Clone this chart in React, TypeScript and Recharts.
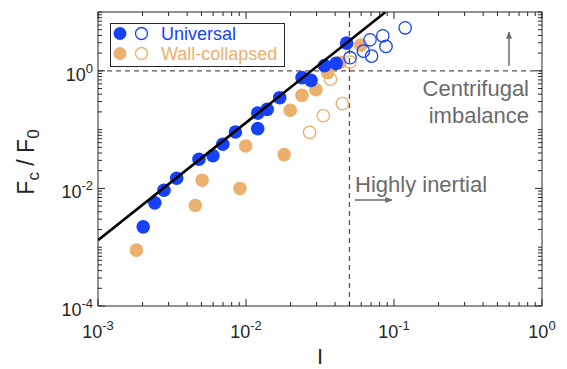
import { ScatterChart, Scatter, XAxis, YAxis, ReferenceLine } from 'recharts';

// Universal (filled) points: I, Fc/F0
const universalI = [0.00202, 0.00242, 0.00279, 0.0034, 0.00481, 0.00598, 0.00697, 0.00848, 0.012, 0.012, 0.0139, 0.0169, 0.0239, 0.0275, 0.0339, 0.0406, 0.0479];
const universalF = [0.00222, 0.00568, 0.00931, 0.0149, 0.0313, 0.0359, 0.0562, 0.091, 0.191, 0.104, 0.221, 0.349, 0.764, 0.687, 1.225, 1.336, 2.95];
// Universal, highly inertial (open)
const universalOpenI = [0.0505, 0.0621, 0.0689, 0.0706, 0.084, 0.0883, 0.119];
const universalOpenF = [1.67, 2.16, 3.37, 1.78, 3.94, 2.6, 5.39];
// Wall-collapsed (filled)
const wallI = [0.00182, 0.00454, 0.00505, 0.0091, 0.00995, 0.0181, 0.0199, 0.0239, 0.0297, 0.0356, 0.0431, 0.0596];
const wallF = [0.000893, 0.00513, 0.0138, 0.00995, 0.0527, 0.0375, 0.213, 0.382, 0.478, 0.931, 1.39, 2.73];
// Wall-collapsed (open)
const wallOpenI = [0.0269, 0.0333, 0.0448, 0.0372, 0.0505];
const wallOpenF = [0.0899, 0.173, 0.276, 0.723, 1.41];
// fit line endpoints
const fitI = [0.001, 0.0877];
const fitF = [0.00132, 10];

const xDecades = [0.001, 0.01, 0.1, 1];
const yDecades = [0.0001, 0.001, 0.01, 0.1, 1, 10];
const yLabelled = [0.0001, 0.01, 1];

const BLUE = '#1741f8';
const ORANGE = '#ebaf6e';
const AXIS = '#262626';
const GRAY = '#6b6b6b';
const FONT = '"Liberation Sans", Arial, Helvetica, sans-serif';

const toPts = (xs: number[], ys: number[]) => xs.map((x, i) => ({ x, y: ys[i] }));

const minorTicks = (decades: number[]) => {
  const out: number[] = [];
  decades.forEach((d, i) => {
    out.push(d);
    if (i < decades.length - 1) for (let m = 2; m <= 9; m++) out.push(+(d * m).toPrecision(3));
  });
  return out;
};

const xTicks = minorTicks(xDecades);
const yTicks = minorTicks(yDecades);

const isIn = (v: number, arr: number[]) => arr.some(a => Math.abs(a - v) / a < 1e-6);
const expOf = (v: number) => Math.round(Math.log10(v));

const Pow = ({ x, y, v, anchor }: any) => (
  <text x={x} y={y} textAnchor={anchor} fill={AXIS} fontSize={18} fontFamily={FONT}>
    <tspan>10</tspan>
    <tspan dy={-8} fontSize={13}>{expOf(v)}</tspan>
  </text>
);

const BottomTick = ({ x, y, payload }: any) => {
  const major = isIn(payload.value, xDecades);
  return (
    <g>
      <line x1={x} x2={x} y1={y} y2={y - (major ? 7 : 4)} stroke={AXIS} />
      {major && <Pow x={x} y={y + 32} v={payload.value} anchor="middle" />}
    </g>
  );
};
const TopTick = ({ x, y, payload }: any) => {
  const major = isIn(payload.value, xDecades);
  return <line x1={x} x2={x} y1={y} y2={y + (major ? 7 : 4)} stroke={AXIS} />;
};
const LeftTick = ({ x, y, payload }: any) => {
  const major = isIn(payload.value, yLabelled);
  return (
    <g>
      <line x1={x} x2={x + (major ? 7 : 4)} y1={y} y2={y} stroke={AXIS} />
      {major && <Pow x={x - 5} y={y + 10} v={payload.value} anchor="end" />}
    </g>
  );
};
const RightTick = ({ x, y, payload }: any) => {
  const major = isIn(payload.value, yLabelled);
  return <line x1={x} x2={x - (major ? 7 : 4)} y1={y} y2={y} stroke={AXIS} />;
};

const filled = (color: string) => (p: any) => <circle cx={p.cx} cy={p.cy} r={6.8} fill={color} />;
const open = (color: string) => (p: any) => (
  <circle cx={p.cx} cy={p.cy} r={6.2} fill="none" stroke={color} strokeWidth={1.3} />
);

export default function App() {
  const W = 567;
  const H = 369;
  const ax = { xAxisId: 'b', yAxisId: 'l' };
  return (
    <div style={{ position: 'absolute', left: 0, top: 0, width: W, height: H, background: '#fff' }}>
      <ScatterChart width={W} height={H} margin={{ top: 11, right: 24, bottom: 0, left: 0 }}>
        <XAxis xAxisId="b" type="number" dataKey="x" scale="log" domain={[0.001, 1]} allowDataOverflow
          ticks={xTicks} interval={0} tick={BottomTick} tickLine={false} tickSize={0} tickMargin={0}
          height={63} stroke={AXIS} />
        <XAxis xAxisId="t" orientation="top" type="number" dataKey="x" scale="log" domain={[0.001, 1]} allowDataOverflow
          ticks={xTicks} interval={0} tick={TopTick} tickLine={false} tickSize={0} tickMargin={0}
          height={1} stroke={AXIS} />
        <YAxis yAxisId="l" type="number" dataKey="y" scale="log" domain={[0.0001, 10]} allowDataOverflow
          ticks={yTicks} interval={0} tick={LeftTick} tickLine={false} tickSize={0} tickMargin={0}
          width={98} stroke={AXIS} />
        <YAxis yAxisId="r" orientation="right" type="number" dataKey="y" scale="log" domain={[0.0001, 10]} allowDataOverflow
          ticks={yTicks} interval={0} tick={RightTick} tickLine={false} tickSize={0} tickMargin={0}
          width={1} stroke={AXIS} />

        <ReferenceLine {...ax} y={1} stroke="#555" strokeWidth={1.3} strokeDasharray="5 4" />
        <ReferenceLine {...ax} x={0.05} stroke="#555" strokeWidth={1.3} strokeDasharray="5 4" />

        <Scatter {...ax} name="Wall-collapsed" data={toPts(wallI, wallF)} shape={filled(ORANGE)} isAnimationActive={false} />
        <Scatter {...ax} name="Wall-collapsed open" data={toPts(wallOpenI, wallOpenF)} shape={open(ORANGE)} isAnimationActive={false} />
        <Scatter {...ax} name="Universal" data={toPts(universalI, universalF)} shape={filled(BLUE)} isAnimationActive={false} />
        <Scatter {...ax} name="Universal open" data={toPts(universalOpenI, universalOpenF)} shape={open(BLUE)} isAnimationActive={false} />
        <Scatter {...ax} name="fit" data={toPts(fitI, fitF)} line={{ stroke: '#000', strokeWidth: 2.6 }}
          shape={() => <g />} isAnimationActive={false} />
      </ScatterChart>

      <svg width={W} height={H} style={{ position: 'absolute', left: 0, top: 0, pointerEvents: 'none' }}
        fontFamily={FONT}>
        <defs>
          <marker id="ah" viewBox="0 0 10 10" refX="9" refY="5" markerWidth="5" markerHeight="5" orient="auto">
            <path d="M0,1 L10,5 L0,9 z" fill={GRAY} />
          </marker>
        </defs>
        {/* legend */}
        <rect x={110.5} y={23.5} width={174} height={43} fill="#fff" stroke={AXIS} strokeWidth={1} />
        <circle cx={120} cy={33.5} r={6.5} fill={BLUE} />
        <circle cx={141.5} cy={33.5} r={6} fill="none" stroke={BLUE} strokeWidth={1.3} />
        <text x={161} y={40} fontSize={18} fill={BLUE}>Universal</text>
        <circle cx={120} cy={53.5} r={6.5} fill={ORANGE} />
        <circle cx={141.5} cy={53.5} r={6} fill="none" stroke={ORANGE} strokeWidth={1.3} />
        <text x={161} y={59.5} fontSize={18} fill={ORANGE}>Wall-collapsed</text>

        {/* annotations */}
        <text x={529} y={96} fontSize={22} fill={GRAY} textAnchor="end">Centrifugal</text>
        <text x={529} y={123} fontSize={22} fill={GRAY} textAnchor="end">imbalance</text>
        <line x1={509} y1={66} x2={509} y2={32} stroke={GRAY} strokeWidth={1.5} markerEnd="url(#ah)" />
        <text x={355} y={191.5} fontSize={22} fill={GRAY}>Highly inertial</text>
        <line x1={355} y1={200} x2={392} y2={200} stroke={GRAY} strokeWidth={1.5} markerEnd="url(#ah)" />

        {/* axis titles */}
        <text x={320} y={364} fontSize={22} fill={AXIS} textAnchor="middle">I</text>
        <text x={34} y={162} fontSize={23} fill={AXIS} textAnchor="middle" transform="rotate(-90 34 162)">
          <tspan>F</tspan>
          <tspan dy={5} fontSize={17}>c</tspan>
          <tspan dy={-5}> / F</tspan>
          <tspan dy={5} fontSize={17}>0</tspan>
        </text>
      </svg>
    </div>
  );
}
